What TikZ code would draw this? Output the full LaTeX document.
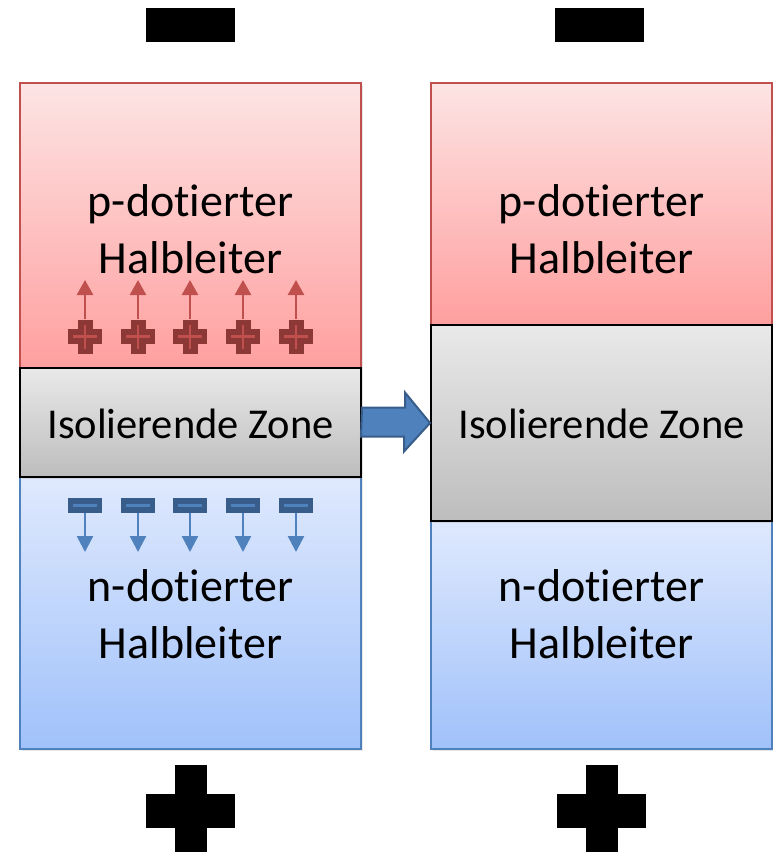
\documentclass[tikz,border=0pt]{standalone}
\usepackage{fontspec}
\setmainfont[Ligatures=NoCommon]{Carlito}
\usetikzlibrary{arrows.meta,shadows}

\definecolor{pline}{HTML}{C0504D}
\definecolor{ptop}{HTML}{FDE4E4}
\definecolor{pbot}{HTML}{FF9F9F}
\definecolor{pdark}{HTML}{8C3836}
\definecolor{nline}{HTML}{4F81BD}
\definecolor{ntop}{HTML}{DFE9FD}
\definecolor{nbot}{HTML}{A0C1FA}
\definecolor{ndark}{HTML}{385D8A}
\definecolor{itop}{HTML}{E9E9E9}
\definecolor{ibot}{HTML}{BDBDBD}

\begin{document}
\begin{tikzpicture}[x=1pt, y=-1pt,
    layer/.style = {rectangle, line width=2pt, minimum width=341pt, inner sep=0pt,
        drop shadow={shadow xshift=2pt, shadow yshift=-2pt, opacity=0.2}},
    player/.style = {layer, draw=pline, top color=ptop, bottom color=pbot},
    nlayer/.style = {layer, draw=nline, top color=ntop, bottom color=nbot},
    ilayer/.style = {layer, draw=black, top color=itop, bottom color=ibot},
    lbl/.style = {align=center, font=\fontsize{46}{57}\selectfont},
    zlbl/.style = {anchor=base, font=\fontsize{42.5}{50}\selectfont},
    plusbar/.style = {rectangle, fill=pdark, inner sep=0pt},
    minusbar/.style = {rectangle, fill=ndark, inner sep=0pt, minimum width=34pt, minimum height=15pt},
    upar/.style = {draw=pline, line width=2.5pt, -{Triangle[length=15pt,width=16pt]}},
    downar/.style = {draw=nline, line width=2.5pt, -{Triangle[length=16pt,width=16pt]}},
    bigarrow/.style = {fill=nline, draw=ndark, line width=2pt, line join=miter}
    ]
    \useasboundingbox (0,0) rectangle (773,852);

    % left stack
    \node[player, minimum height=285pt] (pl) at (190.5,225.5) {};
    \node[nlayer, minimum height=272pt] (nl) at (190.5,613) {};
    \node[ilayer, minimum height=109pt] (il) at (190.5,422.5) {};
    % right stack
    \node[player, minimum height=242pt] (pr) at (601.5,204) {};
    \node[nlayer, minimum height=228pt] (nr) at (601.5,635) {};
    \node[ilayer, minimum height=196pt] (ir) at (601.5,423) {};

    \node[lbl] (tpl) at (190.5,229) {p-dotierter\\Halbleiter};
    \node[zlbl] (til) at (190.5,438) {Isolierende Zone};
    \node[lbl] (tnl) at (190.5,614) {n-dotierter\\Halbleiter};
    \node[lbl] (tpr) at (601.5,229) {p-dotierter\\Halbleiter};
    \node[zlbl] (tir) at (601.5,438) {Isolierende Zone};
    \node[lbl] (tnr) at (601.5,614) {n-dotierter\\Halbleiter};

    % charges
    \foreach \x [count=\i] in {85,138,190,243,296}{
        \node[plusbar, minimum width=34pt, minimum height=15pt] (ph\i) at (\x,336.5) {};
        \node[plusbar, minimum width=15pt, minimum height=34pt] (pv\i) at (\x,336.5) {};
        \draw[pline, line width=2.5pt] (\x-12,336.5) -- (\x+12,336.5) (\x,324.5) -- (\x,348.5);
        \coordinate (pt\i) at (\x,280);
        \draw[upar] (pv\i.north) -- (pt\i);
        \node[minusbar] (m\i) at (\x,505.5) {};
        \draw[nline, line width=2.5pt] (\x-12,505.5) -- (\x+12,505.5);
        \coordinate (mt\i) at (\x,552);
        \draw[downar] (m\i.south) -- (mt\i);
    }

    % arrow between the stacks
    \draw[bigarrow] (il.east) ++(0,-15) -- ++(43,0) -- ++(0,-15) -- (ir.west)
        -- ++(-26,28.5) -- ++(0,-15) -- ++(-43,0) -- cycle;

    % poles
    \fill (146,8) rectangle (235,42);
    \fill (555,8) rectangle (644,42);
    \fill (146,794) rectangle (235,828);
    \fill (175,765) rectangle (207,870);
    \fill (557,794) rectangle (646,828);
    \fill (586,765) rectangle (618,870);
\end{tikzpicture}
\end{document}
